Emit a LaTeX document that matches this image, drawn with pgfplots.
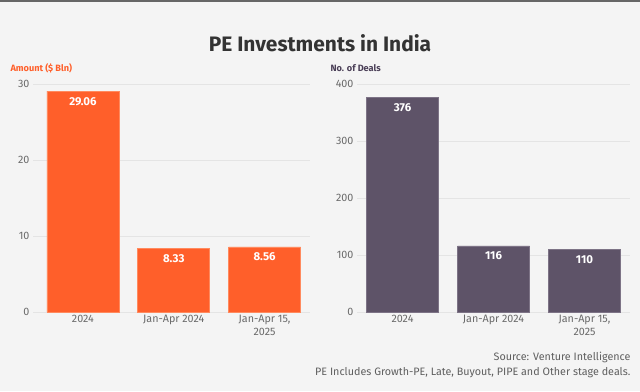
\documentclass[border=0pt]{standalone}
\usepackage{fontspec}
\setmainfont{Fira Sans}
\usepackage{pgfplots}
\pgfplotsset{compat=1.18}
\definecolor{bg}{HTML}{F4F4F4}
\definecolor{orng}{HTML}{FF5F2A}
\definecolor{orngedge}{HTML}{FF8A5E}
\definecolor{purp}{HTML}{5E5368}
\definecolor{purpedge}{HTML}{7D7386}
\definecolor{purptxt}{HTML}{4A3F57}
\definecolor{tickc}{HTML}{6A6A6A}
\definecolor{gridc}{HTML}{E4E4E4}
\definecolor{titlec}{HTML}{333333}
\pgfplotsset{
  barstyle/.style={
    scale only axis, anchor=south west,
    ybar, bar width=72bp,
    ymin=0, xmax=2.5,
    xtick=data,
    xticklabels={2024,Jan-Apr 2024,{Jan-Apr 15,\\2025}},
    xticklabel style={align=center, font=\fontsize{10.8}{12.5}\selectfont, text=tickc},
    yticklabel style={font=\fontsize{10.8}{12}\selectfont, text=tickc},
    /pgf/number format/assume math mode=true,
    axis line style={draw=none},
    major tick length=0pt,
    ymajorgrids, grid style={gridc, line width=0.7pt},
    nodes near coords,
    every node near coord/.append style={anchor=north, yshift=-2.5bp, text=white,
      font=\bfseries\fontsize{11.5}{13}\selectfont},
  }
}
\begin{document}
\begin{tikzpicture}[x=1bp,y=1bp]
\fill[bg] (0,0) rectangle (640,391);
\fill[titlec!75] (0,388.6) rectangle (640,391);
\node[font=\bfseries\fontsize{21}{25}\selectfont, text=titlec] at (320,347.5) {PE Investments in India};
\node[anchor=west, font=\bfseries\fontsize{9.2}{11}\selectfont, text=orng] at (7bp,323bp) {Amount (\$ Bln)};
\node[anchor=west, font=\bfseries\fontsize{9.2}{11}\selectfont, text=purptxt] at (327bp,323bp) {No. of Deals};
\begin{axis}[barstyle, at={(33bp,79bp)}, width=277bp, height=228bp,
  xmin=-0.55, ymax=30, ytick={0,10,20,30}]
\addplot[fill=orng, draw=orngedge, line width=0.6pt] coordinates {(0,29.06) (1,8.33) (2,8.56)};
\end{axis}
\begin{axis}[barstyle, at={(357bp,79bp)}, width=273bp, height=228bp,
  xmin=-0.5, ymax=400, ytick={0,100,200,300,400}]
\addplot[fill=purp, draw=purpedge, line width=0.6pt] coordinates {(0,376) (1,116) (2,110)};
\end{axis}
\node[anchor=east, font=\fontsize{10.8}{12}\selectfont, text=tickc!90!black] at (634bp,34bp) {Source: Venture Intelligence};
\node[anchor=east, font=\fontsize{10.8}{12}\selectfont, text=tickc!90!black] at (634bp,18bp) {PE Includes Growth-PE, Late, Buyout, PIPE and Other stage deals.};
\end{tikzpicture}
\end{document}
